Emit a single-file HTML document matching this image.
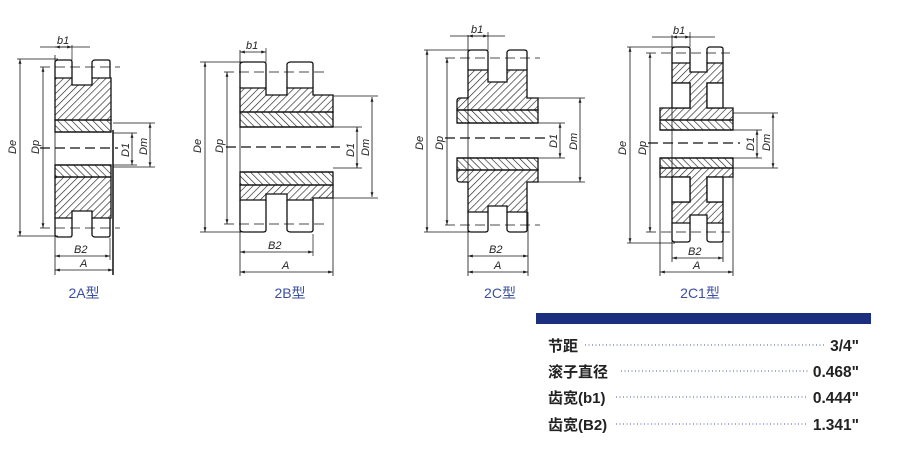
<!DOCTYPE html>
<html><head><meta charset="utf-8"><style>
html,body{margin:0;padding:0;background:#fff;}
svg{display:block}
.t{font-family:"Liberation Sans","Noto Sans CJK SC",sans-serif;}
</style></head><body>
<svg width="900" height="450" viewBox="0 0 900 450" xmlns="http://www.w3.org/2000/svg">
<defs>
<pattern id="h1" width="5" height="5" patternUnits="userSpaceOnUse" patternTransform="rotate(45)"><line x1="0" y1="0" x2="0" y2="5" stroke="#222" stroke-width="1.3"/></pattern>
<pattern id="h2" width="5" height="5" patternUnits="userSpaceOnUse" patternTransform="rotate(-45)"><line x1="0" y1="0" x2="0" y2="5" stroke="#222" stroke-width="1.3"/></pattern>
<marker id="a" viewBox="0 0 10 10" refX="10" refY="5" markerWidth="6" markerHeight="6" orient="auto-start-reverse"><path d="M0,2 L10,5 L0,8z" fill="#222"/></marker>
</defs>
<g stroke="#111" stroke-width="1.3" fill="none">

<!-- ===== 2A ===== -->
<g>
<path d="M55,78 V62 Q56,60 58,60 H70 Q72,60 72,62 V78 M92,78 V62 Q93,60 95,60 H108 Q110,60 110,62 V78" fill="#fff"/>
<path d="M55,78 H72 V85 H92 V78 H111 V120 H55Z" fill="url(#h1)"/>
<rect x="55" y="120" width="56" height="12" fill="url(#h2)"/>
<rect x="55" y="165" width="56" height="12" fill="url(#h2)"/>
<path d="M55,177 H111 V218 H92 V211 H72 V218 H55Z" fill="url(#h1)"/>
<path d="M55,218 V235 Q56,237 58,237 H70 Q72,237 72,235 V218 M92,218 V235 Q93,237 95,237 H108 Q110,237 110,235 V218"/>
<line x1="55" y1="132" x2="111" y2="132"/><line x1="55" y1="165" x2="111" y2="165"/>
<line x1="55" y1="55" x2="55" y2="275" stroke-width="0.8"/>
<line x1="113" y1="130" x2="113" y2="275" stroke-width="1.5"/>
<line x1="40" y1="148" x2="118" y2="148" stroke-dasharray="10,5"/>
<line x1="40" y1="67" x2="120" y2="67" stroke-dasharray="10,5" stroke-width="0.8"/>
<line x1="40" y1="228" x2="120" y2="228" stroke-dasharray="10,5" stroke-width="0.8"/>
<line x1="17" y1="59" x2="58" y2="59" stroke-width="0.7"/><line x1="17" y1="236" x2="58" y2="236" stroke-width="0.7"/>
<line x1="20" y1="59" x2="20" y2="236" marker-start="url(#a)" marker-end="url(#a)" stroke-width="0.8"/>
<line x1="43" y1="67" x2="43" y2="228" marker-start="url(#a)" marker-end="url(#a)" stroke-width="0.8"/>
<line x1="72" y1="45" x2="72" y2="60" stroke-width="0.7"/>
<line x1="40" y1="47" x2="90" y2="47" stroke-width="0.8"/>
<line x1="55" y1="47" x2="72" y2="47" marker-start="url(#a)" marker-end="url(#a)" stroke-width="0.8"/>
<line x1="110" y1="238" x2="110" y2="260" stroke-width="0.7"/>
<line x1="55" y1="256" x2="110" y2="256" marker-start="url(#a)" marker-end="url(#a)" stroke-width="0.8"/>
<line x1="55" y1="270" x2="113" y2="270" marker-start="url(#a)" marker-end="url(#a)" stroke-width="0.8"/>
<line x1="113" y1="123" x2="155" y2="123" stroke-width="0.7"/><line x1="113" y1="167" x2="155" y2="167" stroke-width="0.7"/>
<line x1="113" y1="133" x2="137" y2="133" stroke-width="0.7"/><line x1="113" y1="165" x2="137" y2="165" stroke-width="0.7"/>
<line x1="132" y1="133" x2="132" y2="165" marker-start="url(#a)" marker-end="url(#a)" stroke-width="0.8"/>
<line x1="150" y1="123" x2="150" y2="167" marker-start="url(#a)" marker-end="url(#a)" stroke-width="0.8"/>
</g>

<!-- ===== 2B ===== -->
<g>
<path d="M240,88 V64 Q241,62 244,62 H263 Q266,62 266,64 V88 M287,88 V64 Q288,62 291,62 H310 Q313,62 313,64 V88" fill="#fff"/>
<path d="M240,88 H266 V95 H287 V88 H313 V95 H333 V112 H240Z" fill="url(#h1)"/>
<rect x="240" y="112" width="93" height="15" fill="url(#h2)"/>
<rect x="240" y="172" width="93" height="13" fill="url(#h2)"/>
<path d="M240,185 H333 V198 H313 V200 H287 V194 H266 V200 H240Z" fill="url(#h1)"/>
<path d="M240,200 V230 Q241,232 244,232 H263 Q266,232 266,230 V200 M287,200 V230 Q288,232 291,232 H310 Q313,232 313,230 V200"/>
<line x1="240" y1="127" x2="333" y2="127"/><line x1="240" y1="172" x2="333" y2="172"/>
<line x1="240" y1="50" x2="240" y2="276" stroke-width="0.8"/>
<line x1="333" y1="198" x2="333" y2="276" stroke-width="0.8"/>
<line x1="226" y1="147" x2="340" y2="147" stroke-dasharray="10,5"/>
<line x1="224" y1="72" x2="325" y2="72" stroke-dasharray="10,5" stroke-width="0.8"/>
<line x1="224" y1="224" x2="325" y2="224" stroke-dasharray="10,5" stroke-width="0.8"/>
<line x1="200" y1="62" x2="244" y2="62" stroke-width="0.7"/><line x1="200" y1="232" x2="244" y2="232" stroke-width="0.7"/>
<line x1="205" y1="62" x2="205" y2="232" marker-start="url(#a)" marker-end="url(#a)" stroke-width="0.8"/>
<line x1="227" y1="72" x2="227" y2="224" marker-start="url(#a)" marker-end="url(#a)" stroke-width="0.8"/>
<line x1="266" y1="48" x2="266" y2="62" stroke-width="0.7"/>
<line x1="240" y1="52" x2="266" y2="52" marker-start="url(#a)" marker-end="url(#a)" stroke-width="0.8"/>
<line x1="313" y1="234" x2="313" y2="256" stroke-width="0.7"/>
<line x1="240" y1="252" x2="313" y2="252" marker-start="url(#a)" marker-end="url(#a)" stroke-width="0.8"/>
<line x1="240" y1="272" x2="333" y2="272" marker-start="url(#a)" marker-end="url(#a)" stroke-width="0.8"/>
<line x1="333" y1="96" x2="378" y2="96" stroke-width="0.7"/><line x1="333" y1="198" x2="378" y2="198" stroke-width="0.7"/>
<line x1="333" y1="127" x2="362" y2="127" stroke-width="0.7"/><line x1="333" y1="168" x2="362" y2="168" stroke-width="0.7"/>
<line x1="357" y1="127" x2="357" y2="168" marker-start="url(#a)" marker-end="url(#a)" stroke-width="0.8"/>
<line x1="372" y1="97" x2="372" y2="197" marker-start="url(#a)" marker-end="url(#a)" stroke-width="0.8"/>
</g>

<!-- ===== 2C ===== -->
<g>
<path d="M468,70 V52 Q469,50 471,50 H485 Q488,50 488,52 V70 M507,70 V52 Q508,50 510,50 H524 Q527,50 527,52 V70" fill="#fff"/>
<path d="M468,70 H488 V82 H507 V70 H527 V98 H538 V110 H457 V101 Q457,98 460,98 H468Z" fill="url(#h1)"/>
<rect x="457" y="110" width="81" height="13" fill="url(#h2)"/>
<rect x="457" y="158" width="81" height="12" fill="url(#h2)"/>
<path d="M457,170 H538 V182 H527 V212 H507 V206 H488 V212 H468 V182 H460 Q457,182 457,179Z" fill="url(#h1)"/>
<path d="M468,212 V230 Q469,232 471,232 H485 Q488,232 488,230 V212 M507,212 V230 Q508,232 510,232 H524 Q527,232 527,230 V212"/>
<line x1="457" y1="123" x2="538" y2="123"/><line x1="457" y1="158" x2="538" y2="158"/>
<line x1="468" y1="35" x2="468" y2="276" stroke-width="0.8"/>
<line x1="528" y1="212" x2="528" y2="276" stroke-width="0.8"/>
<line x1="445" y1="138" x2="545" y2="138" stroke-dasharray="10,5"/>
<line x1="445" y1="58" x2="540" y2="58" stroke-dasharray="10,5" stroke-width="0.8"/>
<line x1="445" y1="225" x2="540" y2="225" stroke-dasharray="10,5" stroke-width="0.8"/>
<line x1="424" y1="50" x2="470" y2="50" stroke-width="0.7"/><line x1="424" y1="232" x2="470" y2="232" stroke-width="0.7"/>
<line x1="427" y1="50" x2="427" y2="232" marker-start="url(#a)" marker-end="url(#a)" stroke-width="0.8"/>
<line x1="447" y1="58" x2="447" y2="225" marker-start="url(#a)" marker-end="url(#a)" stroke-width="0.8"/>
<line x1="488" y1="32" x2="488" y2="50" stroke-width="0.7"/>
<line x1="450" y1="36" x2="505" y2="36" stroke-width="0.8"/>
<line x1="468" y1="36" x2="488" y2="36" marker-start="url(#a)" marker-end="url(#a)" stroke-width="0.8"/>
<line x1="468" y1="256" x2="528" y2="256" marker-start="url(#a)" marker-end="url(#a)" stroke-width="0.8"/>
<line x1="468" y1="272" x2="528" y2="272" marker-start="url(#a)" marker-end="url(#a)" stroke-width="0.8"/>
<line x1="538" y1="98" x2="585" y2="98" stroke-width="0.7"/><line x1="538" y1="182" x2="585" y2="182" stroke-width="0.7"/>
<line x1="538" y1="123" x2="565" y2="123" stroke-width="0.7"/><line x1="538" y1="158" x2="565" y2="158" stroke-width="0.7"/>
<line x1="560" y1="123" x2="560" y2="158" marker-start="url(#a)" marker-end="url(#a)" stroke-width="0.8"/>
<line x1="580" y1="98" x2="580" y2="182" marker-start="url(#a)" marker-end="url(#a)" stroke-width="0.8"/>
</g>

<!-- ===== 2C1 ===== -->
<g>
<path d="M672,63 V49 Q673,47 675,47 H687 Q690,47 690,49 V63 M707,63 V49 Q708,47 710,47 H720 Q723,47 723,49 V63" fill="#fff"/>
<path d="M672,63 H690 V72 H707 V63 H723 V83 H707 V108 H733 V120 H660 V108 H690 V83 H672Z" fill="url(#h1)"/>
<rect x="672" y="83" width="18" height="25" fill="#fff"/><rect x="707" y="83" width="16" height="25" fill="#fff"/>
<rect x="660" y="120" width="73" height="10" fill="url(#h2)"/>
<rect x="660" y="158" width="73" height="10" fill="url(#h2)"/>
<path d="M660,168 H733 V177 H707 V202 H723 V223 H707 V215 H690 V223 H672 V202 H690 V177 H660Z" fill="url(#h1)"/>
<rect x="672" y="177" width="18" height="25" fill="#fff"/><rect x="707" y="177" width="16" height="25" fill="#fff"/>
<path d="M672,223 V240 Q673,242 675,242 H687 Q690,242 690,240 V223 M707,223 V240 Q708,242 710,242 H720 Q723,242 723,240 V223"/>
<line x1="660" y1="130" x2="733" y2="130"/><line x1="660" y1="158" x2="733" y2="158"/>
<line x1="672" y1="35" x2="672" y2="262" stroke-width="0.8"/>
<line x1="723" y1="223" x2="723" y2="262" stroke-width="0.8"/>
<line x1="660" y1="168" x2="660" y2="276" stroke-width="0.8"/>
<line x1="733" y1="168" x2="733" y2="276" stroke-width="0.8"/>
<line x1="648" y1="143" x2="740" y2="143" stroke-dasharray="10,5"/>
<line x1="646" y1="53" x2="730" y2="53" stroke-dasharray="10,5" stroke-width="0.8"/>
<line x1="646" y1="232" x2="730" y2="232" stroke-dasharray="10,5" stroke-width="0.8"/>
<line x1="627" y1="47" x2="675" y2="47" stroke-width="0.7"/><line x1="627" y1="243" x2="675" y2="243" stroke-width="0.7"/>
<line x1="630" y1="47" x2="630" y2="243" marker-start="url(#a)" marker-end="url(#a)" stroke-width="0.8"/>
<line x1="650" y1="53" x2="650" y2="232" marker-start="url(#a)" marker-end="url(#a)" stroke-width="0.8"/>
<line x1="690" y1="32" x2="690" y2="47" stroke-width="0.7"/>
<line x1="652" y1="37" x2="715" y2="37" stroke-width="0.8"/>
<line x1="672" y1="37" x2="690" y2="37" marker-start="url(#a)" marker-end="url(#a)" stroke-width="0.8"/>
<line x1="672" y1="258" x2="723" y2="258" marker-start="url(#a)" marker-end="url(#a)" stroke-width="0.8"/>
<line x1="660" y1="272" x2="733" y2="272" marker-start="url(#a)" marker-end="url(#a)" stroke-width="0.8"/>
<line x1="733" y1="113" x2="778" y2="113" stroke-width="0.7"/><line x1="733" y1="168" x2="778" y2="168" stroke-width="0.7"/>
<line x1="733" y1="130" x2="762" y2="130" stroke-width="0.7"/><line x1="733" y1="158" x2="762" y2="158" stroke-width="0.7"/>
<line x1="757" y1="130" x2="757" y2="158" marker-start="url(#a)" marker-end="url(#a)" stroke-width="0.8"/>
<line x1="773" y1="113" x2="773" y2="168" marker-start="url(#a)" marker-end="url(#a)" stroke-width="0.8"/>
</g>
</g>

<!-- labels -->
<g class="t" font-style="italic" font-size="11" fill="#222">
<text x="57" y="44">b1</text>
<text x="74" y="253">B2</text><text x="80" y="267">A</text>
<text transform="translate(16,154) rotate(-90)">De</text>
<text transform="translate(39,154) rotate(-90)">Dp</text>
<text transform="translate(129,157) rotate(-90)">D1</text>
<text transform="translate(147,155) rotate(-90)">Dm</text>

<text x="246" y="49">b1</text>
<text x="268" y="249">B2</text><text x="282" y="269">A</text>
<text transform="translate(201,153) rotate(-90)">De</text>
<text transform="translate(223,153) rotate(-90)">Dp</text>
<text transform="translate(354,157) rotate(-90)">D1</text>
<text transform="translate(369,156) rotate(-90)">Dm</text>

<text x="471" y="33">b1</text>
<text x="489" y="253">B2</text><text x="494" y="269">A</text>
<text transform="translate(423,150) rotate(-90)">De</text>
<text transform="translate(443,150) rotate(-90)">Dp</text>
<text transform="translate(557,148) rotate(-90)">D1</text>
<text transform="translate(577,150) rotate(-90)">Dm</text>

<text x="673" y="34">b1</text>
<text x="688" y="255">B2</text><text x="693" y="269">A</text>
<text transform="translate(626,155) rotate(-90)">De</text>
<text transform="translate(646,155) rotate(-90)">Dp</text>
<text transform="translate(754,151) rotate(-90)">D1</text>
<text transform="translate(770,151) rotate(-90)">Dm</text>
</g>
<g class="t" font-size="14" fill="#3a4fa0" text-anchor="middle">
<text x="84" y="298">2A型</text>
<text x="290" y="298">2B型</text>
<text x="500" y="298">2C型</text>
<text x="700" y="298">2C1型</text>
</g>

<!-- table -->
<rect x="536" y="313" width="335" height="11" fill="#1b2f7e"/>
<g stroke="#6a78b8" stroke-width="1.2" stroke-dasharray="1,2.5">
<line x1="585" y1="345" x2="826" y2="345"/>
<line x1="621" y1="371" x2="808" y2="371"/>
<line x1="616" y1="397" x2="808" y2="397"/>
<line x1="616" y1="424" x2="808" y2="424"/>
</g>
<g class="t" font-size="15" font-weight="bold" fill="#222">
<text x="548" y="351">节距</text>
<text x="548" y="377">滚子直径</text>
<text x="548" y="403">齿宽(b1)</text>
<text x="548" y="430">齿宽(B2)</text>
</g>
<g class="t" font-size="15.5" font-weight="bold" fill="#222" text-anchor="end">
<text x="859" y="351">3/4"</text>
<text x="859" y="377">0.468"</text>
<text x="859" y="403">0.444"</text>
<text x="859" y="430">1.341"</text>
</g>
</svg>
</body></html>
